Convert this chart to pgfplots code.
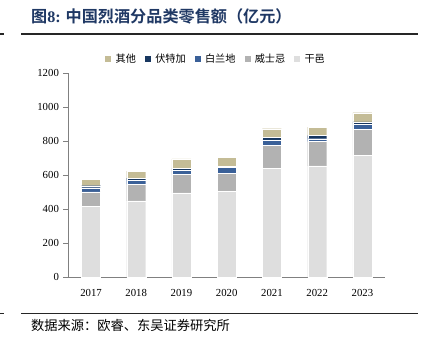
\documentclass[border=0pt]{standalone}
\usepackage{fontspec}
\setmainfont{Liberation Serif}
\newfontfamily\cjk{Noto Sans CJK SC}[BoldFont=Noto Sans CJK SC Bold]
\usepackage{pgfplots}
\pgfplotsset{compat=1.18}
\usepackage{pgfplotstable}
\definecolor{cqita}{RGB}{196,188,150}
\definecolor{cvodka}{RGB}{24,55,96}
\definecolor{cbrandy}{RGB}{58,96,152}
\definecolor{cwhisky}{RGB}{178,178,178}
\definecolor{ccognac}{RGB}{222,222,222}
\definecolor{ctitle}{RGB}{31,56,100}
\definecolor{caxis}{RGB}{128,128,128}
\pgfplotstableread{
x cognac whisky brandy vodka other
0 419 83 25 12 37
1 449 98 25 12 41
2 496 108 25 12 55
3 504 108 33 8 53
4 641 137 31 16 49
5 656 142 17 20 49
6 719 153 28 14 54
}\datatable
\begin{document}
\begin{tikzpicture}
\path[use as bounding box] (0bp,0bp) rectangle (424bp,345bp);
\node[anchor=base west,text=ctitle,font=\fontsize{16.2}{18}\selectfont\cjk\bfseries,inner sep=0] at (31bp,322.5bp) {图{\rmfamily\bfseries 8:} 中国烈酒分品类零售额（亿元）};
\draw[line width=1.3bp,black!85] (21bp,311bp) -- (418bp,311bp);
\draw[line width=1.3bp,black!85] (0bp,311bp) -- (4bp,311bp);
\draw[line width=1.3bp,black!85] (21bp,31.7bp) -- (418bp,31.7bp);
\draw[line width=1.3bp,black!85] (0bp,31.7bp) -- (4bp,31.7bp);
\node[anchor=base west,font=\fontsize{13.3}{15}\selectfont\cjk,inner sep=0] at (31bp,14.5bp) {数据来源：欧睿、东吴证券研究所};
\begin{axis}[
  at={(68.4bp,67.7bp)}, anchor=south west,
  scale only axis, width=316.6bp, height=204bp,
  ybar stacked, bar width=19bp,
  xmin=-0.5, xmax=6.5, ymin=0, ymax=1200,
  ytick={0,200,...,1200},
  xtick={0,...,6},
  xticklabels={2017,2018,2019,2020,2021,2022,2023},
  extra x ticks={0.5,1.5,2.5,3.5,4.5,5.5,6.5},
  extra x tick labels={},
  extra x tick style={major tick length=4bp, tick style={caxis, line width=0.6bp}},
  axis x line*=bottom, axis y line*=left,
  axis line style={caxis, line width=0.8bp},
  tick style={caxis, line width=0.6bp},
  x tick style={draw=none},
  tick align=outside, major tick length=5bp,
  /pgf/number format/1000 sep={},
  /pgf/number format/assume math mode=true,
  ticklabel style={font=\fontsize{10.8}{12}\selectfont, text=black},
  xticklabel style={yshift=-4bp},
  yticklabel style={xshift=-1bp},
  legend columns=5, reverse legend,
  legend style={at={(0.465,1.0)}, anchor=south, yshift=5bp, draw=none, fill=none,
    font=\fontsize{10.2}{11}\selectfont\cjk, column sep=2bp,
    /tikz/every even column/.append style={column sep=6bp}},
  legend image code/.code={\fill[#1] (0bp,-3.5bp) rectangle (7bp,3.5bp);},
  every axis plot/.append style={draw=white, line width=0.3bp},
]
\addplot[fill=ccognac] table[x=x,y=cognac]{\datatable};
\addlegendentry{干邑}
\addplot[fill=cwhisky] table[x=x,y=whisky]{\datatable};
\addlegendentry{威士忌}
\addplot[fill=cbrandy] table[x=x,y=brandy]{\datatable};
\addlegendentry{白兰地}
\addplot[fill=cvodka] table[x=x,y=vodka]{\datatable};
\addlegendentry{伏特加}
\addplot[fill=cqita] table[x=x,y=other]{\datatable};
\addlegendentry{其他}
\end{axis}
\end{tikzpicture}
\end{document}
